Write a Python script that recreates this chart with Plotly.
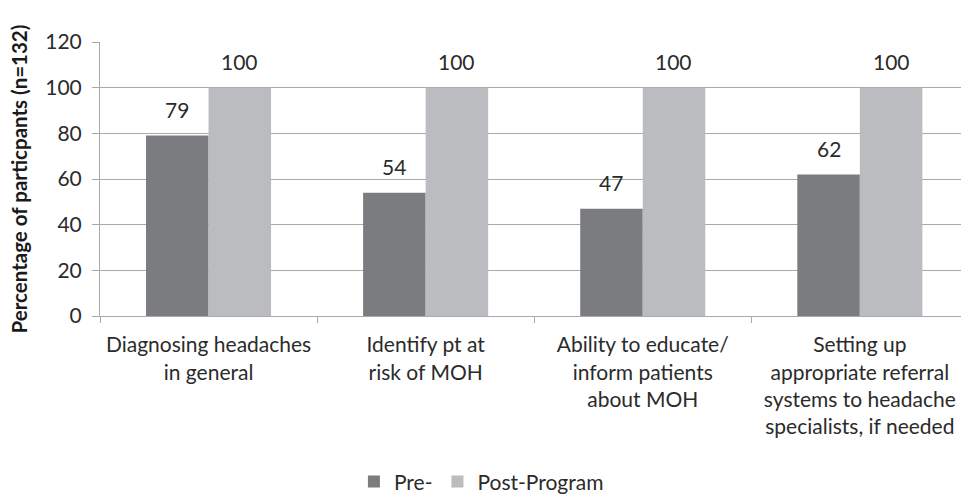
import plotly.graph_objects as go

# Survey categories (line breaks as shown under the axis)
categories = [
    "Diagnosing headaches<br>in general",
    "Identify pt at<br>risk of MOH",
    "Ability to educate/<br>inform patients<br>about MOH",
    "Setting up<br>appropriate referral<br>systems to headache<br>specialists, if needed",
]
pre_values = [79, 54, 47, 62]
post_values = [100, 100, 100, 100]
series_names = ["Pre-", "Post-Program"]
y_ticks = [0, 20, 40, 60, 80, 100, 120]

PRE_COLOR = "#7b7c80"
POST_COLOR = "#bbbcc0"
GRID_COLOR = "#a9a9a9"
TEXT_COLOR = "#2b2b2b"
FONT = "Lato, 'Open Sans', sans-serif"
FS = 21

fig = go.Figure()
fig.add_trace(go.Bar(x=categories, y=pre_values, name=series_names[0],
                     marker=dict(color=PRE_COLOR, line=dict(width=0))))
fig.add_trace(go.Bar(x=categories, y=post_values, name=series_names[1],
                     marker=dict(color=POST_COLOR, line=dict(width=0))))

# Value labels above each bar
half_pair = 31.25
for cat, v in zip(categories, pre_values):
    fig.add_annotation(x=cat, y=v, xshift=-half_pair, yshift=26, yanchor="middle",
                       text=str(v), showarrow=False,
                       font=dict(family=FONT, size=FS, color=TEXT_COLOR))
for cat, v in zip(categories, post_values):
    fig.add_annotation(x=cat, y=v, xshift=half_pair, yshift=26, yanchor="middle",
                       text=str(v), showarrow=False,
                       font=dict(family=FONT, size=FS, color=TEXT_COLOR))

fig.update_layout(
    width=961, height=496,
    margin=dict(l=100, r=0, t=42, b=180, autoexpand=False),
    paper_bgcolor="white", plot_bgcolor="white",
    barmode="group", bargap=0.424, bargroupgap=0,
    font=dict(family=FONT, size=FS, color=TEXT_COLOR),
    showlegend=True,
    legend=dict(orientation="h", x=0.443, xanchor="center", y=-0.605, yanchor="middle",
                font=dict(family=FONT, size=FS, color=TEXT_COLOR),
                itemwidth=30, traceorder="normal"),
)
fig.update_xaxes(
    range=[-0.5, 3.466], showline=True, linecolor=GRID_COLOR, linewidth=1,
    ticks="outside", tickson="boundaries", ticklen=6, tickcolor=GRID_COLOR,
    tickfont=dict(family=FONT, size=FS, color=TEXT_COLOR), ticklabelstandoff=10,
    showgrid=False, tickangle=0, automargin=False,
)
fig.update_yaxes(
    range=[0, 120], tickvals=y_ticks, showline=True, linecolor=GRID_COLOR, linewidth=1,
    ticks="outside", ticklen=7, tickcolor=GRID_COLOR,
    showgrid=True, gridcolor=GRID_COLOR, gridwidth=1, zeroline=False,
    tickfont=dict(family=FONT, size=FS, color=TEXT_COLOR), ticklabelstandoff=6,
    title=dict(text="<b>Percentage of particpants (n=132)</b>",
               font=dict(family=FONT, size=20.5, color="#1a1a1a"), standoff=12),
    automargin=False,
)

fig.write_html("out.html")
